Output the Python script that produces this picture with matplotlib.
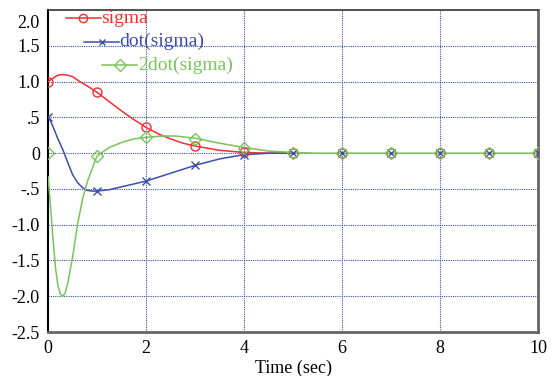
import matplotlib.pyplot as plt
import matplotlib.transforms as mtrans
import numpy as np

plt.rcParams['font.family'] = ['Liberation Serif', 'DejaVu Serif']
plt.rcParams['font.size'] = 13

RED = '#ee3030'
BLUE = '#3c4fa8'
GREEN = '#78c45a'

# marker samples at whole seconds
t_mark = [0, 1, 2, 3, 4, 5, 6, 7, 8, 9, 10]
sigma_mark = [1.0, 0.85, 0.36, 0.1, 0.01, 0, 0, 0, 0, 0, 0]
dsigma_mark = [0.5, -0.53, -0.39, -0.17, -0.02, 0, 0, 0, 0, 0, 0]
ddsigma_mark = [0.0, -0.04, 0.22, 0.2, 0.07, 0, 0, 0, 0, 0, 0]

# curves
t_sigma = [0, 0.1, 0.2, 0.3, 0.4, 0.5, 0.65, 0.8, 1.0, 1.25, 1.5, 1.75,
           2.0, 2.25, 2.5, 2.75, 3.0, 3.5, 4.0, 4.5, 5.0]
sigma = [1.0, 1.05, 1.09, 1.1, 1.09, 1.07, 1.0, 0.94, 0.85, 0.72, 0.59,
         0.47, 0.36, 0.27, 0.2, 0.14, 0.1, 0.04, 0.01, 0.0, 0.0]

t_dsigma = [0, 0.05, 0.1, 0.2, 0.3, 0.4, 0.5, 0.6, 0.7, 0.8, 0.9, 1.0,
            1.25, 1.5, 1.75, 2.0, 2.5, 3.0, 3.5, 4.0, 4.5, 5.0]
dsigma = [0.5, 0.45, 0.37, 0.2, 0.05, -0.13, -0.3, -0.41, -0.48, -0.52,
          -0.53, -0.53, -0.51, -0.47, -0.43, -0.39, -0.28, -0.17, -0.08,
          -0.02, 0.0, 0.0]

t_ddsigma = [0, 0.05, 0.1, 0.15, 0.2, 0.25, 0.3, 0.35, 0.4, 0.5, 0.6, 0.7,
             0.8, 0.9, 0.95, 1.0, 1.1, 1.25, 1.5, 1.75, 2.0, 2.3, 2.6, 3.0,
             3.5, 4.0, 4.5, 5.0, 5.5, 10.0]
ddsigma = [-0.33, -0.75, -1.2, -1.6, -1.85, -1.97, -2.0, -1.95, -1.82, -1.45,
           -1.0, -0.65, -0.4, -0.22, -0.12, -0.04, 0.01, 0.08, 0.15, 0.2,
           0.22, 0.24, 0.24, 0.21, 0.14, 0.08, 0.03, 0.01, 0.0, 0.0]

ytick_vals = [-2.5, -2.0, -1.5, -1.0, -0.5, 0, 0.5, 1.0, 1.5, 2.0]
ytick_labels = ['-2.5', '-2.0', '-1.5', '-1.0', '-.5', '0', '.5', '1.0',
                '1.5', '2.0']
legend_names = ['sigma', 'dot(sigma)', '2dot(sigma)']

fig = plt.figure(figsize=(5.53, 3.76), dpi=100)
ax = fig.add_axes([0.087, 0.117, 0.886, 0.856])

for y in ytick_vals[1:-1]:
    ax.axhline(y, color='#3c4fa8', lw=0.8, ls=(0, (1, 1)), zorder=1)
for x in [2, 4, 6, 8]:
    ax.axvline(x, color='#3c4fa8', lw=0.8, ls=(0, (1, 1)), zorder=1)

ax.plot(t_sigma, sigma, color=RED, lw=1.1, zorder=3)
ax.plot(t_mark, sigma_mark, ls='none', marker='o', ms=6.5, mfc='none',
        mec=RED, mew=1.0, zorder=4)
ax.plot(t_dsigma, dsigma, color=BLUE, lw=1.1, zorder=3)
ax.plot(t_mark, dsigma_mark, ls='none', marker='x', ms=5.5, mec=BLUE,
        mew=1.0, zorder=4)
ax.plot(t_ddsigma, ddsigma, color=GREEN, lw=1.1, zorder=3)
ax.plot(t_mark, ddsigma_mark, ls='none', marker='D', ms=6.5, mfc='none',
        mec=GREEN, mew=1.0, zorder=4)

# staggered legend in the top left corner
colors = [RED, BLUE, GREEN]
markers = ['o', 'x', 'D']
for i, (name, c, m) in enumerate(zip(legend_names, colors, markers)):
    x0 = 0.037 + i * 0.037
    y0 = 0.975 - i * 0.073
    ax.plot([x0, x0 + 0.07], [y0, y0], color=c, lw=1.1,
            transform=ax.transAxes, clip_on=False, zorder=5)
    ax.plot([x0 + 0.035], [y0], marker=m, ms=6 if m != 'x' else 5,
            mfc='none', mec=c, mew=1.0, transform=ax.transAxes,
            clip_on=False, zorder=5)
    ax.text(x0 + 0.072, y0, name, color=c, fontsize=14,
            transform=ax.transAxes, va='center', ha='left', zorder=5)

ax.set_xlim(0, 10)
ax.set_ylim(-2.5, 2.0)
ax.set_xticks([0, 2, 4, 6, 8, 10])
ax.set_yticks(ytick_vals)
ax.set_yticklabels(ytick_labels)
ax.tick_params(length=0, pad=6, labelsize=13)
ax.set_xlabel('Time (sec)', fontsize=13, labelpad=2)

# top label sits a little below the frame edge
top_lab = ax.get_yticklabels()[-1]
top_lab.set_transform(top_lab.get_transform() +
                      mtrans.ScaledTranslation(0, -0.11, fig.dpi_scale_trans))

ax.spines['left'].set_color('black')
ax.spines['left'].set_linewidth(1.5)
ax.spines['top'].set_color('#333333')
ax.spines['top'].set_linewidth(1.2)
ax.spines['right'].set_color('#666666')
ax.spines['right'].set_linewidth(2.0)
ax.spines['bottom'].set_color('#666666')
ax.spines['bottom'].set_linewidth(2.0)

fig.savefig('out.png', dpi=100)
